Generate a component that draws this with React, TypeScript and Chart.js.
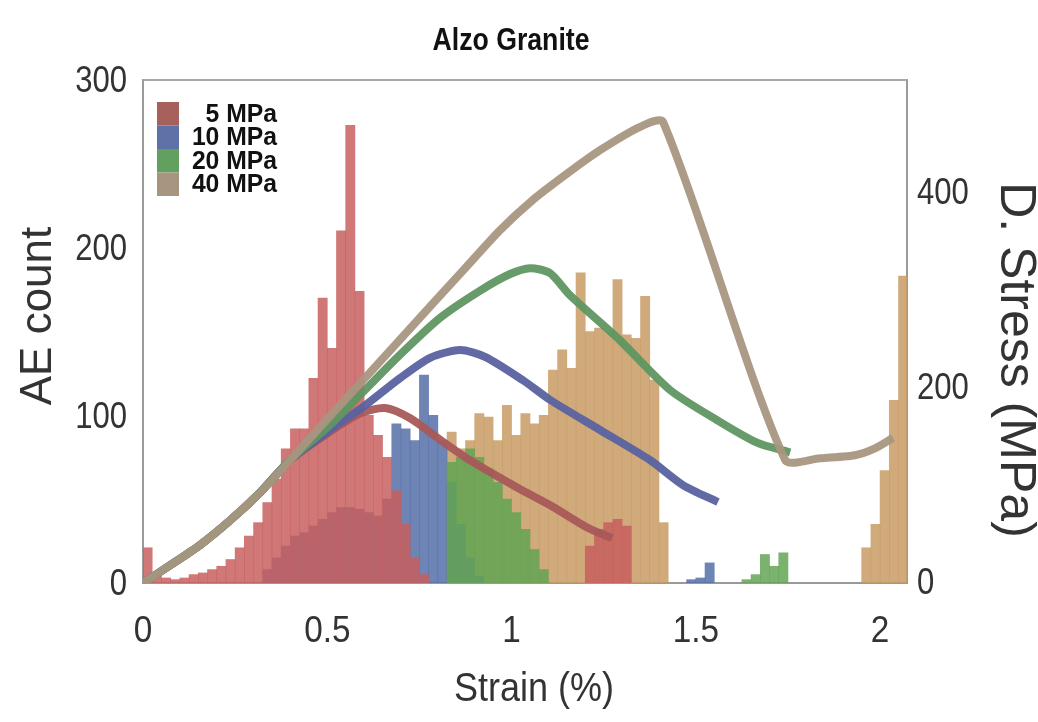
import { useEffect, useRef } from "react";
import { Chart, registerables } from "chart.js";

Chart.register(...registerables);

// Histogram bins along the strain axis (%)
const BIN_WIDTH = 0.025;

// AE counts per bin; each list begins at the given bin index
const ae5Start = 0;
const ae5Counts = [21, 5, 3, 2, 3, 5, 6, 8, 10, 14, 21, 28, 36, 48, 62, 80, 92, 92, 122, 170, 140, 210, 273, 174, 100, 88, 75, 55, 35, 15, 5];
const ae5LateStart = 48;
const ae5LateCounts = [22, 32, 36, 38, 34];

const ae10Start = 13;
const ae10Counts = [8, 15, 22, 28, 30, 34, 38, 42, 45, 45, 44, 42, 40, 50, 95, 92, 85, 124, 100, 85, 60, 35, 15, 4];
const ae10LateStart = 59;
const ae10LateCounts = [2, 3, 12];

const ae20Start = 33;
const ae20Counts = [72, 75, 80, 75, 68, 60, 50, 42, 32, 20, 8];
const ae20LateStart = 65;
const ae20LateCounts = [2, 5, 17, 10, 18];

const ae40Start = 33;
const ae40Counts = [90, 80, 85, 101, 99, 85, 106, 88, 101, 95, 100, 127, 139, 128, 185, 150, 152, 150, 181, 148, 146, 171, 121, 36];
const ae40LateStart = 78;
const ae40LateCounts = [21, 35, 67, 109, 183];

// Differential stress (MPa) against strain (%) for each confining pressure
const strain5 = [0, 0.073, 0.155, 0.236, 0.318, 0.399, 0.507, 0.589, 0.657, 0.725, 0.806, 0.887, 1.015, 1.113, 1.205, 1.273];
const stress5 = [0, 18, 39, 64, 93, 126, 155, 174, 179.5, 169, 147, 126, 98, 78, 57, 46];

const strain10 = [0, 0.073, 0.155, 0.236, 0.318, 0.399, 0.507, 0.597, 0.697, 0.779, 0.86, 0.928, 1.031, 1.104, 1.24, 1.376, 1.465, 1.56];
const stress10 = [0, 18, 39, 64, 93, 126, 157, 180.5, 210, 231, 239, 232, 208, 188, 157, 126, 100.5, 83];

const strain20 = [0, 0.073, 0.155, 0.236, 0.318, 0.399, 0.507, 0.597, 0.697, 0.806, 0.915, 0.996, 1.05, 1.104, 1.159, 1.294, 1.43, 1.558, 1.666, 1.756];
const stress20 = [0, 18, 39, 64, 93, 126, 162, 196, 234, 272, 300, 317, 323, 318, 295, 249, 198, 167, 144, 134];

const strain40 = [0, 0.073, 0.155, 0.236, 0.318, 0.399, 0.507, 0.597, 0.697, 0.787, 0.879, 0.969, 1.058, 1.151, 1.24, 1.349, 1.411, 1.742, 1.837, 1.932, 1.986, 2.035];
const stress40 = [0, 18, 39, 64, 93, 126, 171, 208, 249.5, 287, 325, 362, 393, 420, 444, 468, 473, 126.5, 128, 131, 138, 149];

const pressureLabels = ["5 MPa", "10 MPa", "20 MPa", "40 MPa"];
const barColors = ["rgba(200,95,95,0.85)", "rgba(85,110,168,0.85)", "rgba(100,165,85,0.85)", "rgba(200,155,100,0.85)"];
const lineColors = ["rgba(168,88,90,0.95)", "rgba(90,98,160,0.95)", "rgba(95,150,98,0.95)", "rgba(168,150,128,0.95)"];
const legendColors = ["#a8605c", "#5f72a8", "#62a060", "#a89580"];

const strainTicks = [0, 0.5, 1, 1.5, 2];
const countTicks = [0, 100, 200, 300];
const stressTicks = [0, 200, 400];

const chartTitle = "Alzo Granite";
const strainTitle = "Strain (%)";
const countTitle = "AE count";
const stressTitle = "D. Stress (MPa)";

const FONT = '"Liberation Sans", Arial, sans-serif';

function binsToPoints(segments: [number, number[]][]) {
  const pts: { x: number; y: number }[] = [];
  segments.forEach(([start, counts]) => {
    counts.forEach((c, i) => {
      pts.push({ x: (start + i + 0.5) * BIN_WIDTH, y: c });
    });
  });
  return pts;
}

function curve(xs: number[], ys: number[]) {
  return xs.map((x, i) => ({ x, y: ys[i] }));
}

// Text drawn with a slight horizontal squeeze (condensed lettering)
function drawText(
  ctx: CanvasRenderingContext2D,
  text: string,
  x: number,
  y: number,
  opts: { font: string; angle?: number; squeeze?: number; align?: CanvasTextAlign; color?: string }
) {
  ctx.save();
  ctx.translate(x, y);
  ctx.rotate(opts.angle || 0);
  ctx.scale(opts.squeeze || 1, 1);
  ctx.font = opts.font;
  ctx.fillStyle = opts.color || "#333";
  ctx.textAlign = opts.align || "center";
  ctx.textBaseline = "middle";
  ctx.fillText(text, 0, 0);
  ctx.restore();
}

const framePlugin = {
  id: "plotFrame",
  afterDraw(chart: any) {
    const { ctx, chartArea } = chart;
    ctx.save();
    ctx.strokeStyle = "#a8a8a8";
    ctx.lineWidth = 2;
    ctx.beginPath();
    ctx.moveTo(chartArea.left, chartArea.top);
    ctx.lineTo(chartArea.right, chartArea.top);
    ctx.stroke();
    ctx.restore();
  },
};

const legendPlugin = {
  id: "pressureLegend",
  afterDraw(chart: any) {
    const { ctx, chartArea } = chart;
    const x0 = chartArea.left + 14;
    const y0 = chartArea.top + 22;
    const row = 23.5;
    ctx.save();
    pressureLabels.forEach((label, i) => {
      ctx.fillStyle = legendColors[i];
      ctx.fillRect(x0, y0 + i * row, 22, row);
      drawText(ctx, label, chartArea.left + 134, y0 + i * row + row / 2 + 1, {
        font: `bold 26px ${FONT}`,
        align: "right",
        squeeze: 0.95,
        color: "#111",
      });
    });
    ctx.restore();
  },
};

// Tick labels placed through each scale's value-to-pixel mapping
const tickLabelPlugin = {
  id: "tickLabels",
  afterDraw(chart: any) {
    const { ctx, chartArea, scales } = chart;
    const font = `37px ${FONT}`;
    strainTicks.forEach((v) => {
      drawText(ctx, String(v), scales.x.getPixelForValue(v), chartArea.bottom + 49, { font, squeeze: 0.9 });
    });
    countTicks.forEach((v) => {
      drawText(ctx, String(v), chartArea.left - 16, scales.y.getPixelForValue(v) + 2, { font, squeeze: 0.84, align: "right" });
    });
    stressTicks.forEach((v) => {
      drawText(ctx, String(v), chartArea.right + 10, scales.y2.getPixelForValue(v) + 1, { font, squeeze: 0.84, align: "left" });
    });
  },
};

// Chart title and axis titles, placed relative to the plot area
const titlePlugin = {
  id: "titles",
  afterDraw(chart: any) {
    const { ctx, chartArea } = chart;
    drawText(ctx, chartTitle, chartArea.left + 368, chartArea.top - 39, { font: `bold 31px ${FONT}`, squeeze: 0.86, color: "#111" });
    drawText(ctx, countTitle, chartArea.left - 104, chartArea.top + 236, { font: `44px ${FONT}`, angle: -Math.PI / 2 });
    drawText(ctx, strainTitle, chartArea.left + 391, chartArea.bottom + 107, { font: `40px ${FONT}`, squeeze: 0.9 });
    drawText(ctx, stressTitle, chartArea.right + 108, chartArea.top + 280, { font: `50px ${FONT}`, angle: Math.PI / 2 });
  },
};

export default function App() {
  const canvasRef = useRef<HTMLCanvasElement | null>(null);

  useEffect(() => {
    const canvas = canvasRef.current;
    if (!canvas) return;

    const histograms = [
      binsToPoints([[ae5Start, ae5Counts], [ae5LateStart, ae5LateCounts]]),
      binsToPoints([[ae10Start, ae10Counts], [ae10LateStart, ae10LateCounts]]),
      binsToPoints([[ae20Start, ae20Counts], [ae20LateStart, ae20LateCounts]]),
      binsToPoints([[ae40Start, ae40Counts], [ae40LateStart, ae40LateCounts]]),
    ];
    const curves = [
      curve(strain5, stress5),
      curve(strain10, stress10),
      curve(strain20, stress20),
      curve(strain40, stress40),
    ];
    // stacking: red bars on top of green, blue and tan bars
    const barOrder = [1, 3, 2, 4];
    const lineOrder = [0.4, 0.3, 0.2, 0.1];

    const datasets: any[] = [];
    histograms.forEach((data, i) => {
      datasets.push({
        type: "bar",
        label: pressureLabels[i],
        data,
        backgroundColor: barColors[i],
        borderWidth: 0,
        barPercentage: 1,
        categoryPercentage: 1,
        grouped: false,
        yAxisID: "y",
        order: barOrder[i],
      });
    });
    curves.forEach((data, i) => {
      datasets.push({
        type: "line",
        label: pressureLabels[i] + " stress",
        data,
        borderColor: lineColors[i],
        borderWidth: 8,
        pointRadius: 0,
        tension: 0.25,
        fill: false,
        yAxisID: "y2",
        order: lineOrder[i],
        borderCapStyle: "butt",
        borderJoinStyle: "round",
      });
    });

    const chart = new Chart(canvas, {
      type: "bar",
      data: { datasets },
      plugins: [framePlugin, legendPlugin, tickLabelPlugin, titlePlugin],
      options: {
        animation: false,
        responsive: false,
        devicePixelRatio: 1,
        layout: { padding: { top: 80, left: 0, right: 0, bottom: 0 } },
        plugins: {
          legend: { display: false },
          tooltip: { enabled: false },
          title: { display: false },
        },
        scales: {
          x: {
            type: "linear",
            min: 0,
            max: 2.073,
            offset: false,
            grid: { display: false, drawTicks: false },
            border: { display: true, color: "#9a9a9a", width: 2 },
            ticks: { display: false },
            afterBuildTicks: (s: any) => {
              s.ticks = strainTicks.map((v) => ({ value: v }));
            },
            afterFit: (s: any) => {
              s.height = 139;
            },
          },
          y: {
            type: "linear",
            position: "left",
            min: 0,
            max: 300,
            grid: { display: false, drawTicks: false },
            border: { display: true, color: "#9a9a9a", width: 2 },
            ticks: { display: false },
            afterBuildTicks: (s: any) => {
              s.ticks = countTicks.map((v) => ({ value: v }));
            },
            afterFit: (s: any) => {
              s.width = 143;
            },
          },
          y2: {
            type: "linear",
            position: "right",
            min: 0,
            max: 516,
            grid: { display: false, drawTicks: false },
            border: { display: true, color: "#9a9a9a", width: 2 },
            ticks: { display: false },
            afterBuildTicks: (s: any) => {
              s.ticks = stressTicks.map((v) => ({ value: v }));
            },
            afterFit: (s: any) => {
              s.width = 131;
            },
          },
        },
      },
    });

    return () => chart.destroy();
  }, []);

  return (
    <div style={{ position: "fixed", left: 0, top: 0, width: 1038, height: 722, background: "#fff" }}>
      <canvas ref={canvasRef} width={1038} height={722} />
    </div>
  );
}
